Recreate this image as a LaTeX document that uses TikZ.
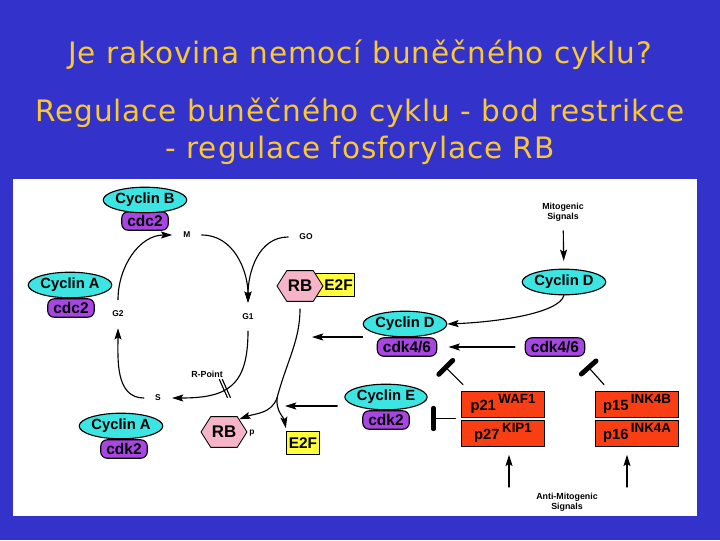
\documentclass[tikz,border=0pt]{standalone}
\usepackage{fontspec}
\setmainfont{Liberation Sans}
\newfontfamily\titlefont[LetterSpace=3]{DejaVu Sans}
\usetikzlibrary{shapes.geometric,shapes.symbols,arrows.meta,calc}
\definecolor{slideblue}{RGB}{51,51,204}
\definecolor{titleyellow}{RGB}{250,200,50}
\definecolor{cycfill}{RGB}{60,228,226}
\definecolor{cdkfill}{RGB}{168,70,228}
\definecolor{rbfill}{RGB}{245,180,200}
\definecolor{e2ffill}{RGB}{255,255,60}
\definecolor{ckifill}{RGB}{250,62,20}
\newcommand{\ckisup}[1]{\,\raisebox{4.5pt}{\fontsize{9.5}{10}\selectfont #1}}
\begin{document}
\begin{tikzpicture}[x=0.025cm, y=0.025cm, line cap=round, line join=round,
    arr/.style={-{Stealth[length=8pt,width=5pt,inset=1.5pt]}, line width=0.8pt},
    inh/.style={-{Bar[width=14pt,line width=3.5pt,round]}, line width=0.8pt},
    phase/.style={font=\bfseries\fontsize{6}{7}\selectfont, inner sep=1pt, outer sep=7pt},
    note/.style={font=\bfseries\fontsize{6.3}{7.5}\selectfont, align=center, inner sep=1pt},
    ttl/.style={font=\titlefont\fontsize{21}{24}\selectfont, text=titleyellow, inner sep=0pt},
    cyclin/.style={ellipse, draw, line width=0.8pt, fill=cycfill, inner sep=0pt,
      minimum width=1.82cm, minimum height=0.64cm, font=\bfseries\fontsize{10.5}{12}\selectfont},
    cdk/.style={draw, line width=0.8pt, fill=cdkfill, rounded corners=4.5pt, inner xsep=4pt,
      inner ysep=0pt, minimum height=0.46cm, font=\bfseries\fontsize{11}{12}\selectfont},
    rbhex/.style={signal, signal to=east and west, signal pointer angle=115, draw, line width=0.6pt,
      fill=rbfill, minimum width=1.15cm, minimum height=0.77cm, inner sep=0pt,
      font=\bfseries\fontsize{12}{13}\selectfont},
    e2f/.style={draw, line width=0.6pt, fill=e2ffill, inner xsep=1.5pt, inner ysep=0pt,
      minimum height=0.58cm, font=\bfseries\fontsize{11}{12}\selectfont},
    cki/.style={draw, line width=0.5pt, fill=ckifill, minimum width=2.08cm, minimum height=0.65cm,
      inner sep=0pt, font=\bfseries\fontsize{10.5}{12}\selectfont}]
  % slide
  \fill[slideblue] (0,0) rectangle (720,-540);
  \fill[white] (13,-179) rectangle (697,-516);
  \node[ttl] (t1) at (360,-55) {Je rakovina nemocí buněčného cyklu?};
  \node[ttl] (t2) at (360,-113) {Regulace buněčného cyklu - bod restrikce};
  \node[ttl] (t3) at (360,-150) {- regulace fosforylace RB};
  % cycle phases
  \node[phase] (M) at (187,-235) {M};
  \node[phase] (GO) at (306,-237) {GO};
  \node[phase] (G1) at (248,-317) {G1};
  \node[phase] (G2) at (118,-314) {G2};
  \node[phase] (S) at (158,-398) {S};
  \draw[arr] (G2) to[out=90,in=180] (M);
  \draw[arr] (M) to[out=0,in=90] (G1);
  \draw[arr] (GO) to[out=180,in=90] (G1);
  \draw[arr] (G1) to[out=-90,in=0,looseness=1.4] coordinate[pos=0.58] (rp) (S);
  \draw[arr] (S) to[out=180,in=-90] (G2);
  \draw[line width=0.8pt] ([shift={(-5,10)}]rp) -- ([shift={(3,-8)}]rp);
  \draw[line width=0.8pt] ([shift={(-2,10)}]rp) -- ([shift={(6,-8)}]rp);
  \node[note] (rpt) at (207,-374) {R-Point};
  % cyclin / cdk complexes
  \node[cdk] (cdcB) at (145,-221) {cdc2};
  \node[cyclin] (cycB) at (145,-200) {Cyclin B};
  \node[cdk] (cdcA) at (71,-308) {cdc2};
  \node[cyclin] (cycA) at (70,-285) {Cyclin A};
  \node[cdk] (cdkA) at (124,-449) {cdk2};
  \node[cyclin] (cycA2) at (121,-426) {Cyclin A};
  \node[cdk] (cdkE) at (386,-420) {cdk2};
  \node[cyclin] (cycE) at (386,-397) {Cyclin E};
  \node[cdk] (cdkDl) at (407,-347) {cdk4/6};
  \node[cyclin] (cycDl) at (405,-324) {Cyclin D};
  \node[cdk] (cdkDr) at (555,-347) {cdk4/6};
  \node[cyclin] (cycDr) at (564,-282) {Cyclin D};
  % RB and E2F
  \node[e2f] (E2Ft) at (335,-285) {\hspace*{5pt}E2F};
  \node[rbhex] (RBt) at (300,-286) {RB};
  \node[rbhex] (RBb) at (224,-432) {RB};
  \node[phase, outer sep=0pt] (pb) at (252,-433) {p};
  \node[e2f] (E2Fb) at (303,-443) {E2F};
  \coordinate (fork) at (277,-398);
  \coordinate (hitE) at (285,-406);
  \coordinate (hitD) at (312,-337);
  \draw[line width=0.8pt, shorten <=5pt] (RBt.south) to[out=-90,in=75] (fork);
  \draw[arr] (fork) to[out=-110,in=20] (RBb.40);
  \draw[arr, shorten >=2pt] (fork) to[out=-95,in=100] (E2Fb.north west);
  \draw[arr] ([xshift=-5pt]cycE.west |- hitE) -- (hitE);
  \draw[arr] (cycDl.west |- hitD) -- (hitD);
  % signals
  \node[note] (mito) at (563,-212) {Mitogenic\\Signals};
  \node[note] (anti) at (567,-502) {Anti-Mitogenic\\Signals};
  \draw[arr, shorten <=5.5pt, shorten >=5.5pt] (mito) -- (cycDr);
  \draw[arr] (cycDr.south) .. controls +(-5,-18) and +(50,2) .. (cycDl.east);
  \draw[arr, shorten <=7pt, shorten >=8pt] (cdkDr) -- (cdkDl);
  % CKI boxes
  \node[cki] (p21) at (503,-404) {p21\ckisup{WAF1}};
  \node[cki] (p27) at (503,-433) {p27\ckisup{KIP1}};
  \node[cki] (p15) at (637,-404) {p15\ckisup{INK4B}};
  \node[cki] (p16) at (637,-433) {p16\ckisup{INK4A}};
  \coordinate (am1) at (509,-487);
  \coordinate (am2) at (627,-487);
  \draw[arr, shorten >=6pt] (am1) -- (am1 |- p27.south);
  \draw[arr, shorten >=6pt] (am2) -- (am2 |- p16.south);
  \draw[inh] ([shift={(2,6)}]p21.north west) -- ++(-19,19);
  \draw[inh] ([shift={(9,6)}]p15.north west) -- ++(-17,19);
  \draw[inh, -{Bar[width=15pt,line width=3pt,round]}]
    ([xshift=-4pt]$(p21.south west)!0.5!(p27.north west)$) -- ++(-24,0);
\end{tikzpicture}
\end{document}
